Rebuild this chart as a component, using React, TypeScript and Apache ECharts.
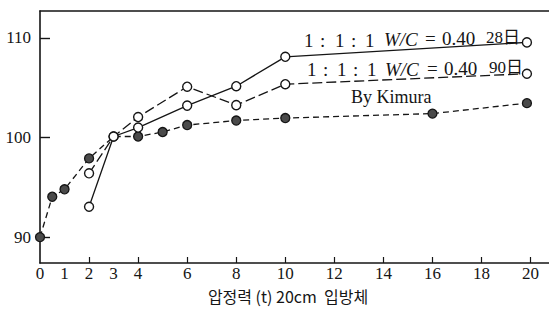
import React, { useEffect, useRef } from "react";
import * as echarts from "echarts";

// ---- data ----
const xTickLabels = [0, 1, 2, 3, 4, 6, 8, 10, 12, 14, 16, 18, 20];
const xTickMarks = [2, 4, 6, 8, 10, 12, 14, 16, 18, 20];
const yTickLabels = [90, 100, 110];

const x28 = [2, 3, 4, 6, 8, 10, 19.85];
const y28 = [93.05, 100.1, 101.0, 103.2, 105.15, 108.1, 109.55];

const x90 = [2, 3, 4, 6, 8, 10, 19.85];
const y90 = [96.4, 100.1, 102.05, 105.1, 103.25, 105.35, 106.4];

const xKim = [0, 0.5, 1, 2, 3, 4, 5, 6, 8, 10, 16, 19.85];
const yKim = [90.0, 94.05, 94.8, 97.9, 100.1, 100.1, 100.55, 101.25, 101.7, 101.95, 102.4, 103.45];

const xTitle = "압정력 (t) 20cm  입방체";
const label28 = ["1", ":", "1", ":", "1", "W/C", "=", "0.40", "28日"];
const label90 = ["1", ":", "1", ":", "1", "W/C", "=", "0.40", "90日"];
const labelKim = "By Kimura";

const SERIF = '"Liberation Serif", "DejaVu Serif", "Noto Sans CJK JP", serif';
const INK = "#151515";

export default function App() {
  const ref = useRef<HTMLDivElement>(null);
  useEffect(() => {
    if (!ref.current) return;
    const chart = echarts.init(ref.current, undefined, { renderer: "svg" });

    const pos1 = [304, 320, 335, 351, 365, 384, 425, 442, 486];
    const pos2 = [307, 323, 337, 353, 367, 385, 427, 444, 489];
    const ys1 = [40, 40, 40, 40, 40, 39, 38, 38, 37];
    const ys2 = [69, 69, 69, 69, 69, 69, 68, 68, 67];
    const mkLabel = (parts: string[], xs: number[], ys: number[]) =>
      parts.map((t, i) => ({
        type: "text",
        x: xs[i],
        y: ys[i],
        silent: true,
        style: {
          text: t,
          fill: INK,
          fontFamily: SERIF,
          fontSize: i === 8 ? 17 : 19,
          fontStyle: i === 5 ? "italic" : "normal",
          textVerticalAlign: "middle",
        },
      }));

    const option: any = {
      animation: false,
      backgroundColor: "#ffffff",
      grid: { left: 40, right: 0, top: 11, bottom: 52 },
      xAxis: [
        {
          type: "value",
          min: 0,
          max: 20.75,
          axisLine: { show: true, lineStyle: { color: INK, width: 1.6 } },
          axisTick: {
            show: true,
            inside: true,
            length: 6,
            customValues: xTickMarks,
            lineStyle: { color: INK, width: 1.2 },
          },
          axisLabel: {
            customValues: xTickLabels,
            color: INK,
            fontFamily: SERIF,
            fontSize: 17,
            margin: 2,
            showMaxLabel: true,
          },
          splitLine: { show: false },
        },
        {
          type: "value",
          position: "top",
          min: 0,
          max: 20.75,
          axisLine: { show: true, onZero: false, lineStyle: { color: INK, width: 1.6 } },
          axisTick: { show: false },
          axisLabel: { show: false },
          splitLine: { show: false },
        },
      ],
      yAxis: {
        type: "value",
        min: 87.4,
        max: 112.7,
        axisLine: { show: true, lineStyle: { color: INK, width: 1.6 } },
        axisTick: {
          show: true,
          inside: true,
          length: 10,
          customValues: yTickLabels,
          lineStyle: { color: INK, width: 1.4 },
        },
        axisLabel: {
          customValues: yTickLabels,
          color: INK,
          fontFamily: SERIF,
          fontSize: 17,
          margin: 9,
        },
        splitLine: { show: false },
      },
      series: [
        {
          name: "Kimura",
          type: "line",
          clip: false,
          z: 2,
          data: xKim.map((x, i) =>
            x === 3
              ? { value: [x, yKim[i]], symbol: "none" }
              : [x, yKim[i]]
          ),
          symbol: "circle",
          symbolSize: 9,
          lineStyle: { color: INK, width: 1.3, type: [6, 4] },
          itemStyle: { color: "#4a4a4a", borderColor: INK, borderWidth: 1.3 },
        },
        {
          name: "90日",
          type: "line",
          clip: false,
          z: 3,
          data: x90.map((x, i) => [x, y90[i]]),
          symbol: "circle",
          symbolSize: 9,
          lineStyle: { color: INK, width: 1.3, type: [10, 4] },
          itemStyle: { color: "#ffffff", borderColor: INK, borderWidth: 1.4 },
        },
        {
          name: "28日",
          type: "line",
          clip: false,
          z: 4,
          data: x28.map((x, i) => [x, y28[i]]),
          symbol: "circle",
          symbolSize: 9,
          lineStyle: { color: INK, width: 1.3 },
          itemStyle: { color: "#ffffff", borderColor: INK, borderWidth: 1.4 },
        },
      ],
      graphic: [
        ...mkLabel(label28, pos1, ys1),
        ...mkLabel(label90, pos2, ys2),
        {
          type: "text",
          x: 351,
          y: 97,
          silent: true,
          style: {
            text: labelKim,
            fill: INK,
            fontFamily: SERIF,
            fontSize: 18,
            textVerticalAlign: "middle",
          },
        },
        {
          type: "text",
          x: 288,
          y: 296,
          silent: true,
          style: {
            text: xTitle,
            fill: INK,
            fontFamily: '"Noto Sans CJK KR", sans-serif',
            fontSize: 16,
            textAlign: "center",
            textVerticalAlign: "middle",
          },
        },
      ],
    };
    chart.setOption(option);
    return () => chart.dispose();
  }, []);
  return (
    <div
      ref={ref}
      style={{ position: "fixed", left: 0, top: 0, width: 549, height: 315, background: "#fff" }}
    />
  );
}
